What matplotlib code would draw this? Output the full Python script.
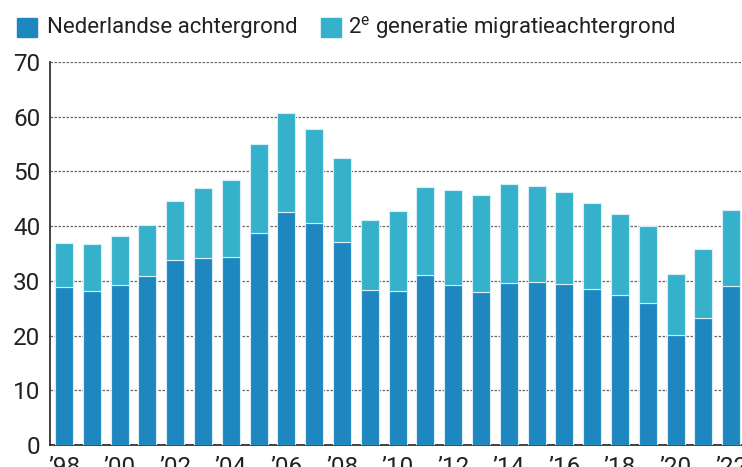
import matplotlib.pyplot as plt
import matplotlib.patches as mpatches
import numpy as np

plt.rcParams['font.family'] = ['Roboto', 'DejaVu Sans']

years = list(range(1998, 2023))
nederlands = [28.8, 28.1, 29.3, 30.9, 33.9, 34.2, 34.4, 38.7, 42.6, 40.5, 37.1,
              28.4, 28.1, 31.1, 29.2, 28.0, 29.6, 29.7, 29.5, 28.6, 27.4, 26.0,
              20.1, 23.3, 29.1]
totaal = [37.0, 36.8, 38.2, 40.2, 44.6, 47.0, 48.5, 55.0, 60.7, 57.7, 52.4,
          41.1, 42.8, 47.2, 46.6, 45.7, 47.7, 47.4, 46.2, 44.3, 42.3, 40.1,
          31.3, 35.9, 42.9]
tweede_gen = [t - n for t, n in zip(totaal, nederlands)]
xlabels = ["\u2019%02d" % (y % 100) if y % 2 == 0 else "" for y in years]

c_ned = '#1f87c0'
c_mig = '#36b1cb'

fig = plt.figure(figsize=(7.42, 4.67), dpi=100)
ax = fig.add_axes([50/742, 1 - 445/467, 1 - 50/742, (445 - 62)/467])

x = np.arange(len(years))
ax.bar(x, nederlands, width=0.65, color=c_ned, edgecolor='#d8eef6', linewidth=0.8, zorder=3)
ax.bar(x, tweede_gen, bottom=nederlands, width=0.65, color=c_mig, edgecolor='#d8eef6',
       linewidth=0.8, zorder=3)

ax.set_ylim(0, 70)
ax.set_xlim(-0.504, 24.39)
ax.set_yticks(range(0, 71, 10))
ax.yaxis.grid(True, color='#666666', linestyle=(0, (2, 1.2)), linewidth=0.9, zorder=0)
ax.set_axisbelow(True)
ax.set_xticks(x)
ax.set_xticklabels(xlabels)
ax.tick_params(axis='both', length=0, labelsize=17.5, colors='#222222')
ax.tick_params(axis='y', pad=7)
ax.tick_params(axis='x', pad=8)
for s in ['top', 'right']:
    ax.spines[s].set_visible(False)
ax.spines['left'].set_color('#222222')
ax.spines['bottom'].set_color('#222222')
ax.spines['left'].set_linewidth(1.2)
ax.spines['bottom'].set_linewidth(1.2)

# legend
fig.patches.append(mpatches.Rectangle((17/742, 1 - 37/467), 20/742, 19/467,
                                      transform=fig.transFigure, color=c_ned))
fig.text(47/742, 1 - 28/467, 'Nederlandse achtergrond', fontsize=16,
         va='center', ha='left', color='#222222')
fig.patches.append(mpatches.Rectangle((321/742, 1 - 37/467), 20/742, 19/467,
                                      transform=fig.transFigure, color=c_mig))
fig.text(348/742, 1 - 28/467, r'2$^\mathregular{e}$ generatie migratieachtergrond',
         fontsize=16, va='center', ha='left', color='#222222')

fig.savefig('out.png', dpi=100)
